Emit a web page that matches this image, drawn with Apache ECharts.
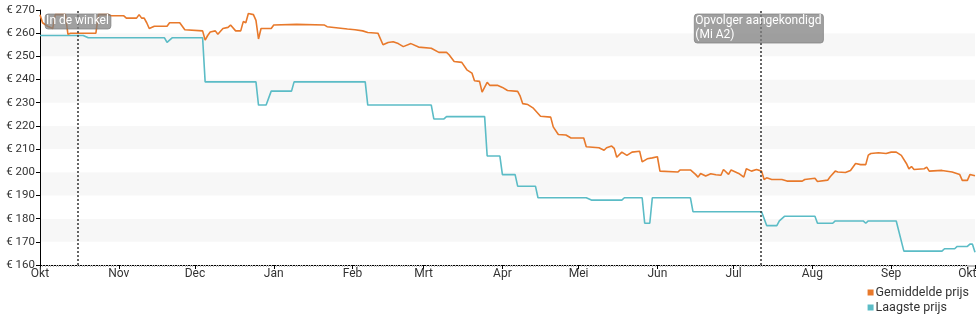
<!DOCTYPE html>
<html>
<head>
<meta charset="utf-8">
<script src="https://cdn.jsdelivr.net/npm/echarts@6/dist/echarts.min.js"></script>
<style>
html,body{margin:0;padding:0;background:#fff;}
#chart{width:980px;height:325px;}
</style>
</head>
<body>
<div id="chart"></div>
<script>
var monthNames = ['Jan','Feb','Mrt','Apr','Mei','Jun','Jul','Aug','Sep','Okt','Nov','Dec'];
var seriesNames = ['Gemiddelde prijs', 'Laagste prijs'];

var avgDates = ['2017-10-01','2017-10-02','2017-10-04','2017-10-06','2017-10-07','2017-10-11','2017-10-12','2017-10-13','2017-10-23','2017-10-24','2017-10-28','2017-10-29','2017-11-03','2017-11-04','2017-11-08','2017-11-09','2017-11-10','2017-11-11','2017-11-12','2017-11-13','2017-11-15','2017-11-20','2017-11-21','2017-11-25','2017-11-27','2017-12-04','2017-12-05','2017-12-06','2017-12-07','2017-12-09','2017-12-10','2017-12-12','2017-12-14','2017-12-15','2017-12-17','2017-12-19','2017-12-20','2017-12-21','2017-12-22','2017-12-24','2017-12-25','2017-12-26','2017-12-27','2017-12-31','2018-01-01','2018-01-10','2018-01-21','2018-01-22','2018-01-30','2018-02-02','2018-02-05','2018-02-07','2018-02-11','2018-02-13','2018-02-15','2018-02-17','2018-02-19','2018-02-21','2018-02-24','2018-02-27','2018-03-04','2018-03-07','2018-03-10','2018-03-11','2018-03-13','2018-03-16','2018-03-18','2018-03-20','2018-03-21','2018-03-23','2018-03-24','2018-03-26','2018-03-27','2018-03-30','2018-04-01','2018-04-03','2018-04-07','2018-04-08','2018-04-09','2018-04-11','2018-04-13','2018-04-16','2018-04-20','2018-04-21','2018-04-23','2018-04-26','2018-04-28','2018-05-03','2018-05-04','2018-05-09','2018-05-11','2018-05-12','2018-05-14','2018-05-15','2018-05-16','2018-05-18','2018-05-20','2018-05-22','2018-05-25','2018-05-26','2018-05-28','2018-05-30','2018-06-01','2018-06-02','2018-06-09','2018-06-10','2018-06-14','2018-06-16','2018-06-17','2018-06-18','2018-06-20','2018-06-22','2018-06-24','2018-06-26','2018-06-27','2018-06-29','2018-06-30','2018-07-03','2018-07-05','2018-07-06','2018-07-08','2018-07-10','2018-07-12','2018-07-13','2018-07-14','2018-07-16','2018-07-20','2018-07-22','2018-07-28','2018-07-29','2018-08-02','2018-08-03','2018-08-07','2018-08-08','2018-08-10','2018-08-11','2018-08-14','2018-08-16','2018-08-18','2018-08-20','2018-08-22','2018-08-23','2018-08-24','2018-08-27','2018-08-30','2018-09-01','2018-09-03','2018-09-05','2018-09-07','2018-09-08','2018-09-09','2018-09-10','2018-09-14','2018-09-15','2018-09-16','2018-09-21','2018-09-25','2018-09-28','2018-09-29','2018-10-01','2018-10-02','2018-10-04'];
var avgValues = [268,264.5,263,262,268,268,259.5,260,260,268,268,267.5,267.5,266.5,266.5,268,266.5,266.5,264.5,262,263,263,264.5,264.5,261.5,261,257,259,260.5,261,259.5,262,262.5,263.5,261,261,265,264.5,268.5,268,265.5,257.5,262,262,263.5,263.8,263.5,262.8,261.8,261.5,261,260.3,260,255,256,256.3,255.5,254.2,255.5,254,253.5,251.7,251.7,250.7,247.8,247.4,244.2,242.8,239.5,239.2,234.6,238.8,237.5,237.5,236.6,235.3,234.9,232.8,229.6,229.2,227.8,224.2,223.8,219.6,216.3,216.1,214.8,214.8,211,210.6,209.5,210.6,211.3,210.3,206.5,208.7,207.3,208.7,209.1,204.5,205.8,206.2,206.7,200.5,200.1,201,201,199.1,197.9,199.5,198.4,199.4,198.9,198.7,201.2,199.1,201,199.5,197.9,201.5,200.5,201.2,200.5,196.9,197.6,196.9,196.9,196.2,196.2,196.9,197.4,196,196.6,198.1,200.5,200.1,199.9,200.8,203.8,203.3,203.3,207.4,208.1,208.4,208.1,208.7,208.7,207.3,203.8,201.5,202.5,201.2,201.5,202.2,200.5,200.8,200.1,199,196.5,196.5,199,198.5];

var lowDates = ['2017-10-01','2017-10-18','2017-10-20','2017-11-19','2017-11-20','2017-11-22','2017-12-04','2017-12-05','2017-12-25','2017-12-26','2017-12-29','2017-12-31','2018-01-08','2018-01-09','2018-02-06','2018-02-07','2018-03-04','2018-03-05','2018-03-09','2018-03-10','2018-03-25','2018-03-26','2018-03-31','2018-04-01','2018-04-06','2018-04-07','2018-04-14','2018-04-15','2018-05-04','2018-05-06','2018-05-18','2018-05-19','2018-05-26','2018-05-27','2018-05-29','2018-05-30','2018-06-14','2018-06-15','2018-07-12','2018-07-14','2018-07-18','2018-07-19','2018-07-21','2018-08-02','2018-08-03','2018-08-09','2018-08-10','2018-08-21','2018-08-22','2018-08-23','2018-09-03','2018-09-06','2018-09-21','2018-09-22','2018-09-26','2018-09-27','2018-10-01','2018-10-02','2018-10-03','2018-10-04'];
var lowValues = [259,259,258,258,256,258,258,239,239,229,229,235,235,239,239,229,229,223,223,224,224,207,207,199,199,194,194,189,189,188,188,189,189,178,178,189,189,183,183,177,177,179,181,181,178,178,179,179,178,179,179,166,166,167,167,168,168,169,169,165.5];

var eventDates = ['2017-10-16', '2018-07-11 12:00'];
var eventLabels = ['In de winkel', 'Opvolger aangekondigd\n(Mi A2)'];
var eventLabelOffsets = [-33, -66];

var yMin = 160, yMax = 270, yStep = 10;
var xMin = '2017-10-01', xMax = '2018-10-04';

function zip(d, v) { return d.map(function (x, i) { return [x, v[i]]; }); }

var font = 'Roboto';
var chart = echarts.init(document.getElementById('chart'), null, {renderer: 'canvas'});
chart.setOption({
  animation: false,
  backgroundColor: '#ffffff',
  textStyle: {fontFamily: font},
  grid: {left: 40, right: 5, top: 10, bottom: 60},
  legend: {
    orient: 'vertical', right: 6, bottom: 6,
    icon: 'rect', itemWidth: 6, itemHeight: 6, itemGap: 2,
    textStyle: {fontFamily: font, fontSize: 12.5, color: '#333', padding: [0, 0, 0, -3]},
    data: seriesNames
  },
  xAxis: {
    type: 'time', min: xMin, max: xMax,
    minInterval: 28 * 864e5, maxInterval: 31 * 864e5,
    axisLine: {show: true, lineStyle: {color: '#000', width: 1}},
    axisTick: {show: true, length: 4, lineStyle: {color: '#000'}},
    minorTick: {show: true, splitNumber: 30, length: 2, lineStyle: {color: '#bbb'}},
    splitLine: {show: false},
    axisLabel: {
      color: '#333', fontSize: 12, fontFamily: font, margin: 3,
      formatter: function (val) { return monthNames[new Date(val).getMonth()]; }
    }
  },
  yAxis: {
    type: 'value', min: yMin, max: yMax, interval: yStep,
    axisLine: {show: true, lineStyle: {color: '#000', width: 1}},
    axisTick: {show: true, length: 4, lineStyle: {color: '#000'}},
    splitLine: {show: false},
    splitArea: {show: true, areaStyle: {color: ['#ffffff', '#f7f7f7']}},
    axisLabel: {color: '#333', fontSize: 11.5, fontFamily: font, margin: 5, formatter: '€ {value}'}
  },
  series: [
    {
      name: seriesNames[0], type: 'line', showSymbol: false, symbol: 'none',
      color: '#e8792b',
      lineStyle: {width: 1.6, color: '#e8792b'},
      data: zip(avgDates, avgValues),
      z: 3,
      markLine: {
        silent: true, symbol: 'none',
        lineStyle: {type: [2, 2], color: '#333', width: 1.5},
        label: {show: false},
        data: eventDates.map(function (d) { return {xAxis: d}; })
      },
      markPoint: {
        silent: true, symbol: 'rect', symbolSize: 0,
        data: eventDates.map(function (d, i) {
          return {
            coord: [d, yMax],
            label: {
              show: true, position: [eventLabelOffsets[i], 4], align: 'left', verticalAlign: 'top',
              formatter: eventLabels[i], color: '#fff', fontSize: 12, fontFamily: font,
              lineHeight: 14,
              backgroundColor: 'rgba(128,128,128,0.75)', borderRadius: 3,
              borderColor: 'rgba(100,100,100,0.6)', borderWidth: 0.5,
              padding: [0, 2, 1, 1]
            }
          };
        })
      }
    },
    {
      name: seriesNames[1], type: 'line', showSymbol: false, symbol: 'none',
      color: '#5bbcc6',
      lineStyle: {width: 1.6, color: '#5bbcc6'},
      data: zip(lowDates, lowValues),
      z: 2
    }
  ]
});
</script>
</body>
</html>
